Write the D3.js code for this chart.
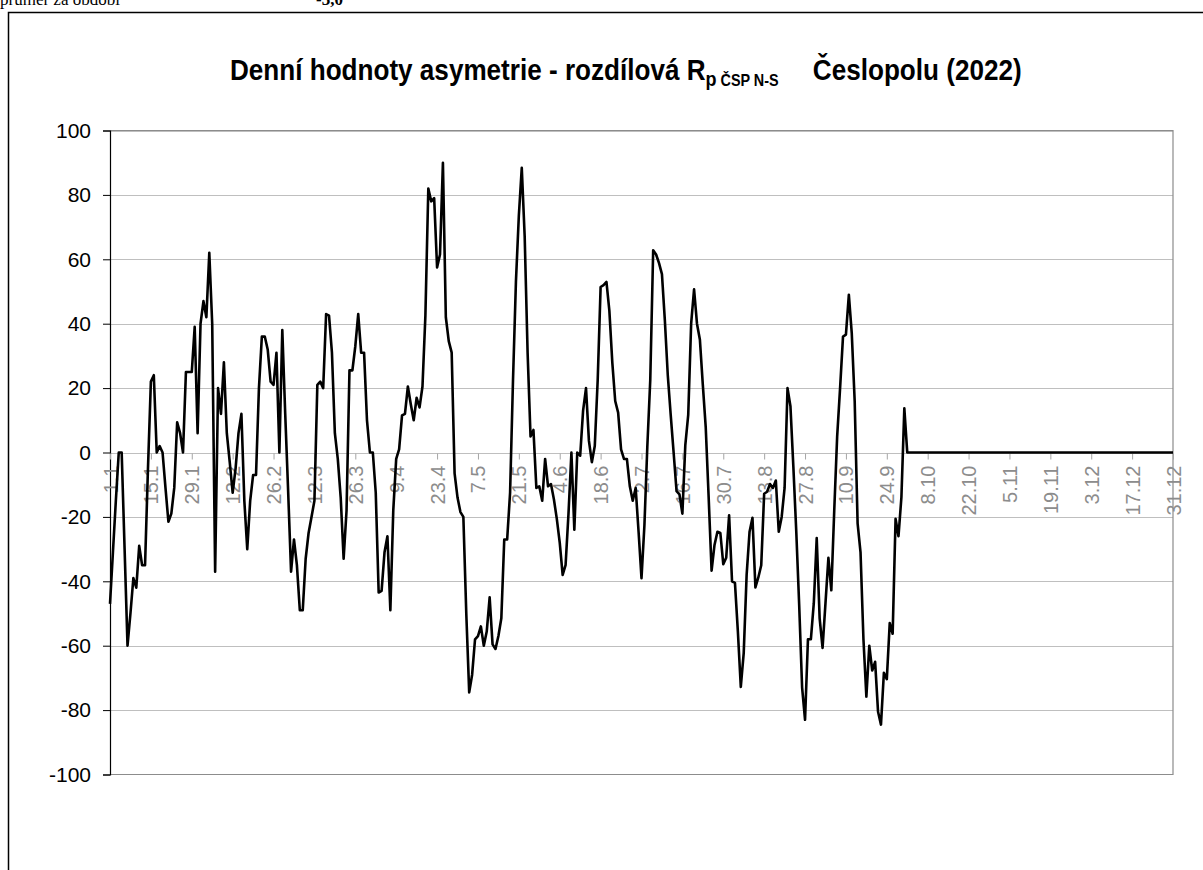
<!DOCTYPE html>
<html>
<head>
<meta charset="utf-8">
<script src="https://cdn.jsdelivr.net/npm/d3@7"></script>
<style>
  html, body { margin: 0; padding: 0; background: #fff; }
  svg { display: block; }
</style>
</head>
<body>
<svg id="chart" width="1203" height="870"></svg>
<script>
// ---- data ----
const tickLabels = ["1.1","15.1","29.1","12.2","26.2","12.3","26.3","9.4","23.4","7.5","21.5","4.6","18.6","2.7","16.7","30.7","13.8","27.8","10.9","24.9","8.10","22.10","5.11","19.11","3.12","17.12","31.12"];
const tickDays = [0,14,28,42,56,70,84,98,112,126,140,154,168,182,196,210,224,238,252,266,280,294,308,322,336,350,364];
const yTicks = [100,80,60,40,20,0,-20,-40,-60,-80,-100];
// daily values 1.1.2022 – 31.12.2022 (365 days)
const values = [
  -47,-31,-15,0,0,-30,-60,-50,-39,-42,
  -29,-35,-35,-5,22,24,0,2,0,-11,
  -21.5,-19,-11,9.4,6,0,25,25,25,39,
  6,40,47,42,62,40,-37,20,12,28,
  6,-3,-12.5,-5,6,12,-15,-30,-15,-7,
  -7,20,36,36,32,22,21,31,0,38,
  12,-12,-37,-27,-35,-49,-49,-33,-25,-20,
  -15,21,22,20,43,42.5,31,6,-2,-14,
  -33,-18,25.5,25.5,33,43,31,31,10,0,
  0,-12.5,-43.5,-43,-31,-26,-49,-18,-2,1,
  11.5,12,20.5,15,10,17,14,20.5,42.5,82,
  78,79,57.5,61.5,90,42,34.6,31,-6.5,-14,
  -18.5,-20,-50,-74.5,-69,-58,-57,-54,-60,-55.6,
  -45,-59.6,-61,-57,-51.5,-27,-27,-12.5,22.5,53,
  73.6,88.4,67,31,5,7,-11,-10.5,-15,-2,
  -10.5,-9.8,-14.5,-20.6,-28,-38,-35,-19,0,-24,
  0,-1,13,20,3.6,-3,2,22.5,51.4,52,
  53,44,28,16,12.4,1,-2,-2,-10.5,-15,
  -11,-24.6,-39,-22.6,2,22.5,62.8,61.5,58.8,55.4,
  41,24,11.7,0,-12,-13,-19,2.3,11.7,40,
  50.7,40,35,21,7.7,-14,-36.7,-28.7,-24.6,-25,
  -34.7,-32.7,-19.5,-40,-40.5,-55.6,-72.8,-62.3,-38,-24.6,
  -20.3,-41.9,-38.8,-35,-12.8,-12.2,-9.8,-11,-8.7,-24.6,
  -20,-11,20,14.4,-4.4,-24.6,-47.5,-73,-83,-58,
  -58,-46.8,-26.6,-51.5,-60.7,-46.8,-32.7,-42.8,-18,5,
  20,36,36.6,49,37,16,-22,-31,-58,-75.8,
  -60,-67.7,-65,-80.5,-84.5,-68.4,-70.4,-53,-56.3,-20.6,
  -26,-13.9,13.7,0,0,0,0,0,0,0,
  0,0,0,0,0,0,0,0,0,0,
  0,0,0,0,0,0,0,0,0,0,
  0,0,0,0,0,0,0,0,0,0,
  0,0,0,0,0,0,0,0,0,0,
  0,0,0,0,0,0,0,0,0,0,
  0,0,0,0,0,0,0,0,0,0,
  0,0,0,0,0,0,0,0,0,0,
  0,0,0,0,0,0,0,0,0,0,
  0,0,0,0,0
];
const headerLabel = "průměr za období";
const headerValue = "-3,0";
const titleMain = "Denní hodnoty asymetrie - rozdílová R";
const titleSubP = "p";
const titleSubRest = " ČSP N-S";
const titleTail = "Česlopolu (2022)";

// ---- layout ----
const svg = d3.select("#chart");
const plot = { left: 110, right: 1173, top: 130.5, bottom: 774.5 };

const x = d3.scaleLinear().domain([0, values.length - 1]).range([plot.left, plot.right]);
const y = d3.scaleLinear().domain([-100, 100]).range([plot.bottom, plot.top]);

// header text (partly cut at the top edge, as in the original sheet)
svg.append("text").attr("x", 0).attr("y", 5)
  .attr("font-family", "Liberation Serif, Times New Roman, serif").attr("font-size", 17)
  .text(headerLabel);
svg.append("text").attr("x", 316).attr("y", 5)
  .attr("font-family", "Liberation Serif, Times New Roman, serif").attr("font-size", 17)
  .attr("font-weight", "bold").text(headerValue);

// outer chart frame
svg.append("rect").attr("x", 8.5).attr("y", 12.5).attr("width", 1300).attr("height", 1000)
  .attr("fill", "none").attr("stroke", "#000").attr("stroke-width", 1.5);

// title
const titleG = svg.append("g").attr("transform", "translate(230,80) scale(0.9,1)");
const title = titleG.append("text").attr("x", 0).attr("y", 0)
  .attr("font-family", "Liberation Sans, Arial, sans-serif").attr("font-weight", "bold")
  .attr("font-size", 29).attr("fill", "#000");
title.append("tspan").text(titleMain);
title.append("tspan").attr("font-size", 20).attr("dy", 6).text(titleSubP);
title.append("tspan").attr("font-size", 16).text(titleSubRest);
title.append("tspan").attr("dy", -6).attr("dx", 38).text(titleTail);

// gridlines
svg.append("g").selectAll("line").data(yTicks.filter(d => d !== -100)).join("line")
  .attr("x1", plot.left).attr("x2", plot.right)
  .attr("y1", d => Math.round(y(d)) + 0.5).attr("y2", d => Math.round(y(d)) + 0.5)
  .attr("stroke", "#bfbfbf").attr("stroke-width", 1);

// plot border (top, right, bottom) gray
svg.append("path")
  .attr("d", `M${plot.left},${plot.top}H${plot.right}V${plot.bottom}H${plot.left}`)
  .attr("fill", "none").attr("stroke", "#8c8c8c").attr("stroke-width", 1.2);

// y axis
const yAxis = d3.axisLeft(y).tickValues(yTicks).tickSize(7).tickPadding(12).tickFormat(d => String(d));
const gy = svg.append("g").attr("transform", `translate(${plot.left},0)`).call(yAxis);
gy.select(".domain").attr("stroke", "#000").attr("stroke-width", 1.2);
gy.selectAll(".tick line").attr("stroke", "#000");
gy.selectAll(".tick text").attr("font-family", "Liberation Sans, Arial, sans-serif")
  .attr("font-size", 21).attr("fill", "#000");

// x axis at zero
const xAxis = d3.axisBottom(x).tickValues(tickDays).tickSize(6)
  .tickFormat((d, i) => tickLabels[i]);
const gx = svg.append("g").attr("transform", `translate(0,${Math.round(y(0)) + 0.5})`).call(xAxis);
gx.select(".domain").remove();
gx.selectAll(".tick line").attr("stroke", "#a6a6a6");
gx.selectAll(".tick text")
  .attr("font-family", "Liberation Sans, Arial, sans-serif").attr("font-size", 20)
  .attr("fill", "#8c8c8c")
  .attr("text-anchor", "end")
  .attr("transform", "rotate(-90)")
  .attr("x", -12).attr("y", 0).attr("dy", "0.35em");

// data line
const line = d3.line().x((d, i) => x(i)).y(d => y(d));
svg.append("path").datum(values)
  .attr("d", line).attr("fill", "none").attr("stroke", "#000")
  .attr("stroke-width", 2.6).attr("stroke-linejoin", "round");
</script>
</body>
</html>
